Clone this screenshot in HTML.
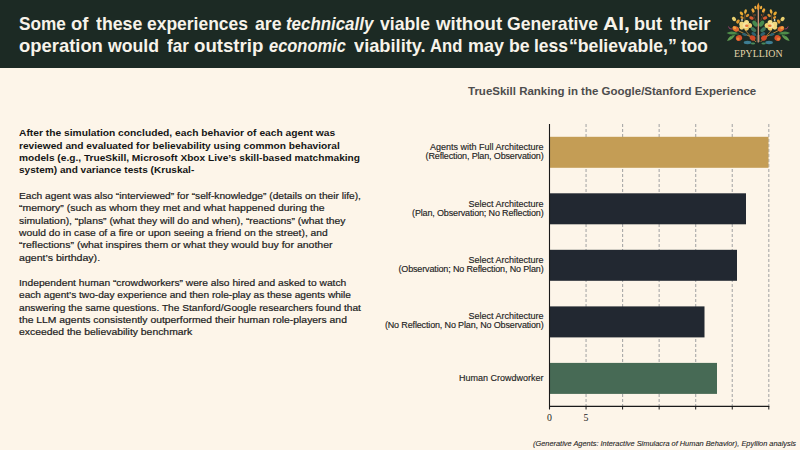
<!DOCTYPE html>
<html><head><meta charset="utf-8">
<style>
html,body{margin:0;padding:0;}
body{width:800px;height:450px;overflow:hidden;position:relative;background:#fdf5e9;font-family:"Liberation Sans",sans-serif;}
.hdr{position:absolute;left:0;top:0;width:800px;height:67.7px;background:#1c2a24;}
.t{position:absolute;white-space:nowrap;transform-origin:0 0;}
.title{color:#f7f3ea;font-weight:bold;font-size:18.5px;line-height:21.5px;left:20px;}
.body{color:#1c1c1c;-webkit-text-stroke:0.2px #1c1c1c;font-size:9.8px;line-height:12.3px;left:19px;}
.body.b{color:#151515;font-weight:bold;-webkit-text-stroke:0;}
.lbl{position:absolute;right:256.5px;text-align:right;color:#1f1f1f;-webkit-text-stroke:0.15px #1f1f1f;font-size:9px;line-height:9.4px;white-space:nowrap;}
.lbl span{letter-spacing:-0.15px;}
</style></head><body>
<div class="hdr"></div>
<!-- title -->
<div class="t title" style="left:19.07px;top:13px;transform:scaleX(0.9306)">Some</div>
<div class="t title" style="left:71.41px;top:13px;transform:scaleX(0.9941)">of</div>
<div class="t title" style="left:96.00px;top:13px;transform:scaleX(0.9583)">these</div>
<div class="t title" style="left:146.86px;top:13px;transform:scaleX(0.9438)">experiences</div>
<div class="t title" style="left:254.80px;top:13px;transform:scaleX(0.9556)">are</div>
<div class="t title" style="left:286.49px;top:13px;transform:scaleX(0.9126)"><i>technically</i></div>
<div class="t title" style="left:379.80px;top:13px;transform:scaleX(0.9519)">viable</div>
<div class="t title" style="left:436.00px;top:13px;transform:scaleX(1.0061)">without</div>
<div class="t title" style="left:507.05px;top:13px;transform:scaleX(0.9511)">Generative</div>
<div class="t title" style="left:603.40px;top:13px;transform:scaleX(1.1348)">AI,</div>
<div class="t title" style="left:634.42px;top:13px;transform:scaleX(0.9786)">but</div>
<div class="t title" style="left:669.90px;top:13px;transform:scaleX(1.0100)">their</div>
<div class="t title" style="left:19.00px;top:34.8px;transform:scaleX(0.9951)">operation</div>
<div class="t title" style="left:108.40px;top:34.8px;transform:scaleX(0.9547)">would</div>
<div class="t title" style="left:166.90px;top:34.8px;transform:scaleX(0.9208)">far</div>
<div class="t title" style="left:194.09px;top:34.8px;transform:scaleX(1.0075)">outstrip</div>
<div class="t title" style="left:269.40px;top:34.8px;transform:scaleX(0.8895)"><i>economic</i></div>
<div class="t title" style="left:353.80px;top:34.8px;transform:scaleX(0.9861)">viability.</div>
<div class="t title" style="left:430.40px;top:34.8px;transform:scaleX(0.9000)">And</div>
<div class="t title" style="left:467.63px;top:34.8px;transform:scaleX(0.9694)">may</div>
<div class="t title" style="left:509.35px;top:34.8px;transform:scaleX(0.9550)">be</div>
<div class="t title" style="left:533.56px;top:34.8px;transform:scaleX(0.9441)">less</div>
<div class="t title" style="left:569.05px;top:34.8px;transform:scaleX(0.9532)">“believable,”</div>
<div class="t title" style="left:680.60px;top:34.8px;transform:scaleX(0.9321)">too</div>

<!-- logo -->
<svg style="position:absolute;left:725px;top:0" width="66" height="48" viewBox="0 0 66 48">

<path d="M20 30 Q25 36 31 42" stroke="#b07a3a" stroke-width="0.9" fill="none"/>
<path d="M12 30 Q20 34 28 38" stroke="#c89040" stroke-width="0.9" fill="none"/>
<path d="M20 21 Q19 16 21 11" stroke="#a06a30" stroke-width="0.7" fill="none"/>
<path d="M31 21 L27 12" stroke="#8a4a2a" stroke-width="0.6" fill="none"/>
<path d="M13 24 L9 18" stroke="#b08030" stroke-width="0.6" fill="none"/>
<ellipse cx="16.5" cy="13.5" rx="1.4" ry="2.2" fill="#e8a830" transform="rotate(-40 16.5 13.5)"/>
<ellipse cx="20.5" cy="11.5" rx="1.3" ry="2.2" fill="#eab040" transform="rotate(15 20.5 11.5)"/>
<ellipse cx="22.5" cy="15.5" rx="1.3" ry="2" fill="#d89030" transform="rotate(50 22.5 15.5)"/>
<ellipse cx="17" cy="17.5" rx="1.2" ry="1.8" fill="#d89030" transform="rotate(-50 17 17.5)"/>
<ellipse cx="9" cy="19" rx="1.8" ry="2.4" fill="#e8d070" transform="rotate(-40 9 19)"/>
<ellipse cx="13" cy="21.5" rx="1.5" ry="2.2" fill="#e09a30" transform="rotate(30 13 21.5)"/>
<circle cx="17" cy="20" r="0.9" fill="#dfe4d8"/>
<ellipse cx="28" cy="10.5" rx="1.4" ry="2.2" fill="#f0a838" transform="rotate(-25 28 10.5)"/>
<ellipse cx="30.5" cy="7.5" rx="1.1" ry="1.8" fill="#f0b040" transform="rotate(-10 30.5 7.5)"/>
<ellipse cx="26.5" cy="18" rx="2.3" ry="1.5" fill="#d85a30" transform="rotate(20 26.5 18)"/>
<circle cx="30" cy="15" r="0.7" fill="#c06030"/>
<ellipse cx="30" cy="23.6" rx="2.1" ry="3.4" fill="#478a4e" transform="rotate(-35 30 23.6)"/>
<ellipse cx="28.5" cy="29.6" rx="1.9" ry="3.1" fill="#3f7558" transform="rotate(-50 28.5 29.6)"/>
<ellipse cx="28.8" cy="34" rx="1.6" ry="2.6" fill="#2f6270" transform="rotate(-55 28.8 34)"/>
<path d="M3.5 26.5 Q4 29.5 7 29" stroke="#a04070" stroke-width="0.9" fill="none"/>
<ellipse cx="10.7" cy="28.8" rx="3.4" ry="2.6" fill="#e06a30" transform="rotate(25 10.7 28.8)"/>
<ellipse cx="9.5" cy="27.8" rx="1.8" ry="1.3" fill="#f0a040" transform="rotate(25 9.5 27.8)"/>
<circle cx="16.8" cy="24" r="2.6" fill="#f3d77c"/>
<circle cx="21.5" cy="22.6" r="2.5" fill="#f6e08a"/>
<circle cx="24.5" cy="25.5" r="2.5" fill="#f0d070"/>
<circle cx="21.5" cy="28.3" r="2.4" fill="#f0cc68"/>
<circle cx="16.8" cy="27.3" r="2.4" fill="#f3d77c"/>
<circle cx="20.5" cy="25.5" r="2.8" fill="#f8e4a0"/>
<ellipse cx="21.8" cy="25.8" rx="1.8" ry="1.2" fill="#e4763a"/>
<path d="M1.5 33 Q6 30 13 33 Q7 36 1.5 33 Z" fill="#4e8c4a"/>
<path d="M2 41 Q4 35 10 35 Q8 40 2 41 Z" fill="#5f9c50"/>
<path d="M6 37 Q9 33 14 34" stroke="#3e7a42" stroke-width="0.7" fill="none"/>
<ellipse cx="14" cy="38" rx="3.2" ry="2.8" fill="#d8522a" transform="rotate(-20 14 38)"/>
<ellipse cx="13" cy="39" rx="1.6" ry="1.4" fill="#e8803a"/>
<ellipse cx="22.5" cy="42.5" rx="3.8" ry="1.7" fill="#3d7d92"/>
<ellipse cx="27.6" cy="38" rx="3" ry="2.5" fill="#cf4a28" transform="rotate(30 27.6 38)"/>
<ellipse cx="19.5" cy="34.5" rx="2.6" ry="1.3" fill="#2d6070" transform="rotate(20 19.5 34.5)"/>
<ellipse cx="28" cy="43.5" rx="2.2" ry="1" fill="#4a8a5a"/>
<g transform="translate(66.6,0) scale(-1,1)">
<path d="M20 30 Q25 36 31 42" stroke="#b07a3a" stroke-width="0.9" fill="none"/>
<path d="M12 30 Q20 34 28 38" stroke="#c89040" stroke-width="0.9" fill="none"/>
<path d="M20 21 Q19 16 21 11" stroke="#a06a30" stroke-width="0.7" fill="none"/>
<path d="M31 21 L27 12" stroke="#8a4a2a" stroke-width="0.6" fill="none"/>
<path d="M13 24 L9 18" stroke="#b08030" stroke-width="0.6" fill="none"/>
<ellipse cx="16.5" cy="13.5" rx="1.4" ry="2.2" fill="#e8a830" transform="rotate(-40 16.5 13.5)"/>
<ellipse cx="20.5" cy="11.5" rx="1.3" ry="2.2" fill="#eab040" transform="rotate(15 20.5 11.5)"/>
<ellipse cx="22.5" cy="15.5" rx="1.3" ry="2" fill="#d89030" transform="rotate(50 22.5 15.5)"/>
<ellipse cx="17" cy="17.5" rx="1.2" ry="1.8" fill="#d89030" transform="rotate(-50 17 17.5)"/>
<ellipse cx="9" cy="19" rx="1.8" ry="2.4" fill="#e8d070" transform="rotate(-40 9 19)"/>
<ellipse cx="13" cy="21.5" rx="1.5" ry="2.2" fill="#e09a30" transform="rotate(30 13 21.5)"/>
<circle cx="17" cy="20" r="0.9" fill="#dfe4d8"/>
<ellipse cx="28" cy="10.5" rx="1.4" ry="2.2" fill="#f0a838" transform="rotate(-25 28 10.5)"/>
<ellipse cx="30.5" cy="7.5" rx="1.1" ry="1.8" fill="#f0b040" transform="rotate(-10 30.5 7.5)"/>
<ellipse cx="26.5" cy="18" rx="2.3" ry="1.5" fill="#d85a30" transform="rotate(20 26.5 18)"/>
<circle cx="30" cy="15" r="0.7" fill="#c06030"/>
<ellipse cx="30" cy="23.6" rx="2.1" ry="3.4" fill="#478a4e" transform="rotate(-35 30 23.6)"/>
<ellipse cx="28.5" cy="29.6" rx="1.9" ry="3.1" fill="#3f7558" transform="rotate(-50 28.5 29.6)"/>
<ellipse cx="28.8" cy="34" rx="1.6" ry="2.6" fill="#2f6270" transform="rotate(-55 28.8 34)"/>
<path d="M3.5 26.5 Q4 29.5 7 29" stroke="#a04070" stroke-width="0.9" fill="none"/>
<ellipse cx="10.7" cy="28.8" rx="3.4" ry="2.6" fill="#e06a30" transform="rotate(25 10.7 28.8)"/>
<ellipse cx="9.5" cy="27.8" rx="1.8" ry="1.3" fill="#f0a040" transform="rotate(25 9.5 27.8)"/>
<circle cx="16.8" cy="24" r="2.6" fill="#f3d77c"/>
<circle cx="21.5" cy="22.6" r="2.5" fill="#f6e08a"/>
<circle cx="24.5" cy="25.5" r="2.5" fill="#f0d070"/>
<circle cx="21.5" cy="28.3" r="2.4" fill="#f0cc68"/>
<circle cx="16.8" cy="27.3" r="2.4" fill="#f3d77c"/>
<circle cx="20.5" cy="25.5" r="2.8" fill="#f8e4a0"/>
<ellipse cx="21.8" cy="25.8" rx="1.8" ry="1.2" fill="#e4763a"/>
<path d="M1.5 33 Q6 30 13 33 Q7 36 1.5 33 Z" fill="#4e8c4a"/>
<path d="M2 41 Q4 35 10 35 Q8 40 2 41 Z" fill="#5f9c50"/>
<path d="M6 37 Q9 33 14 34" stroke="#3e7a42" stroke-width="0.7" fill="none"/>
<ellipse cx="14" cy="38" rx="3.2" ry="2.8" fill="#d8522a" transform="rotate(-20 14 38)"/>
<ellipse cx="13" cy="39" rx="1.6" ry="1.4" fill="#e8803a"/>
<ellipse cx="22.5" cy="42.5" rx="3.8" ry="1.7" fill="#3d7d92"/>
<ellipse cx="27.6" cy="38" rx="3" ry="2.5" fill="#cf4a28" transform="rotate(30 27.6 38)"/>
<ellipse cx="19.5" cy="34.5" rx="2.6" ry="1.3" fill="#2d6070" transform="rotate(20 19.5 34.5)"/>
<ellipse cx="28" cy="43.5" rx="2.2" ry="1" fill="#4a8a5a"/>
</g>
<path d="M33.3 5 L33.3 42.5" stroke="#e3a080" stroke-width="1.2"/>
<path d="M33.3 2.5 Q35.2 6 34.4 9 L33.3 10.5 L32.2 9 Q31.4 6 33.3 2.5 Z" fill="#f09a30"/>
<path d="M32.2 35 L32.2 42 M34.4 35 L34.4 42" stroke="#8a8a78" stroke-width="0.6"/>
</svg>
<div class="t" style="left:734px;top:48.3px;font-family:'Liberation Serif',serif;font-size:10px;color:#e4d6aa;letter-spacing:0.05px;transform:scaleX(0.985)">EPYLLION</div>

<!-- body -->
<div class="t body b" style="top:127.15px;transform:scaleX(1.0464)">After the simulation concluded, each behavior of each agent was</div>
<div class="t body b" style="top:139.55px;transform:scaleX(1.0390)">reviewed and evaluated for believability using common behavioral</div>
<div class="t body b" style="top:151.95px;transform:scaleX(1.0365)">models (e.g., TrueSkill, Microsoft Xbox Live’s skill-based matchmaking</div>
<div class="t body b" style="top:164.35px;transform:scaleX(1.0283)">system) and variance tests (Kruskal-</div>
<div class="t body" style="top:190.05px;transform:scaleX(1.0397)">Each agent was also “interviewed” for “self-knowledge” (details on their life),</div>
<div class="t body" style="top:202.35px;transform:scaleX(1.0687)">“memory” (such as whom they met and what happened during the</div>
<div class="t body" style="top:214.65px;transform:scaleX(1.0577)">simulation), “plans” (what they will do and when), “reactions” (what they</div>
<div class="t body" style="top:226.95px;transform:scaleX(1.0520)">would do in case of a fire or upon seeing a friend on the street), and</div>
<div class="t body" style="top:239.25px;transform:scaleX(1.0744)">“reflections” (what inspires them or what they would buy for another</div>
<div class="t body" style="top:251.55px;transform:scaleX(1.0816)">agent’s birthday).</div>
<div class="t body" style="top:276.95px;transform:scaleX(1.0451)">Independent human “crowdworkers” were also hired and asked to watch</div>
<div class="t body" style="top:289.30px;transform:scaleX(1.0337)">each agent’s two-day experience and then role-play as these agents while</div>
<div class="t body" style="top:301.65px;transform:scaleX(1.0384)">answering the same questions. The Stanford/Google researchers found that</div>
<div class="t body" style="top:314.00px;transform:scaleX(1.0582)">the LLM agents consistently outperformed their human role-players and</div>
<div class="t body" style="top:326.35px;transform:scaleX(1.0603)">exceeded the believability benchmark</div>
<!-- chart -->
<div class="t" style="left:468px;top:85.2px;font-weight:bold;font-size:11.5px;color:#4d4d4d;">TrueSkill Ranking in the Google/Stanford Experience</div>
<svg style="position:absolute;left:0;top:0" width="800" height="450" viewBox="0 0 800 450">
<line x1="586.05" y1="123.9" x2="586.05" y2="406" stroke="#a9a9a9" stroke-width="1.1" stroke-dasharray="3.2 1.8"/><line x1="622.60" y1="123.9" x2="622.60" y2="406" stroke="#a9a9a9" stroke-width="1.1" stroke-dasharray="3.2 1.8"/><line x1="659.15" y1="123.9" x2="659.15" y2="406" stroke="#a9a9a9" stroke-width="1.1" stroke-dasharray="3.2 1.8"/><line x1="695.70" y1="123.9" x2="695.70" y2="406" stroke="#a9a9a9" stroke-width="1.1" stroke-dasharray="3.2 1.8"/><line x1="732.25" y1="123.9" x2="732.25" y2="406" stroke="#a9a9a9" stroke-width="1.1" stroke-dasharray="3.2 1.8"/><line x1="768.80" y1="123.9" x2="768.80" y2="406" stroke="#a9a9a9" stroke-width="1.1" stroke-dasharray="3.2 1.8"/>
<rect x="550" y="136.8" width="218.5" height="31" fill="#c49d55"/><rect x="550" y="193.3" width="196" height="31" fill="#222831"/><rect x="550" y="249.8" width="187" height="31" fill="#222831"/><rect x="550" y="306.4" width="154.5" height="31" fill="#222831"/><rect x="550" y="362.9" width="167" height="31" fill="#476a55"/>
<line x1="549.5" y1="123.9" x2="549.5" y2="409.5" stroke="#1a1a1a" stroke-width="1.1"/>
<line x1="549" y1="406.3" x2="769.3" y2="406.3" stroke="#1a1a1a" stroke-width="1.2"/>
<line x1="586.05" y1="406" x2="586.05" y2="409.5" stroke="#1a1a1a" stroke-width="1"/><line x1="622.60" y1="406" x2="622.60" y2="409.5" stroke="#1a1a1a" stroke-width="1"/><line x1="659.15" y1="406" x2="659.15" y2="409.5" stroke="#1a1a1a" stroke-width="1"/><line x1="695.70" y1="406" x2="695.70" y2="409.5" stroke="#1a1a1a" stroke-width="1"/><line x1="732.25" y1="406" x2="732.25" y2="409.5" stroke="#1a1a1a" stroke-width="1"/><line x1="768.80" y1="406" x2="768.80" y2="409.5" stroke="#1a1a1a" stroke-width="1"/>
</svg>
<div class="lbl" style="top:143px">Agents with Full Architecture<br><span>(Reflection, Plan, Observation)</span></div>
<div class="lbl" style="top:200px">Select Architecture<br><span>(Plan, Observation; No Reflection)</span></div>
<div class="lbl" style="top:256px">Select Architecture<br><span>(Observation; No Reflection, No Plan)</span></div>
<div class="lbl" style="top:312px">Select Architecture<br><span>(No Reflection, No Plan, No Observation)</span></div>
<div class="lbl" style="top:374px">Human Crowdworker</div>

<div class="t" style="left:547px;top:412.3px;font-family:'Liberation Serif',serif;font-size:9.8px;line-height:11px;color:#222">0</div>
<div class="t" style="left:583.6px;top:412.3px;font-family:'Liberation Serif',serif;font-size:9.8px;line-height:11px;color:#222">5</div>

<div class="t" style="left:533px;top:439px;font-style:italic;font-size:7.4px;color:#262626;-webkit-text-stroke:0.1px #262626">(Generative Agents: Interactive Simulacra of Human Behavior), Epyllion analysis</div>
</body></html>
